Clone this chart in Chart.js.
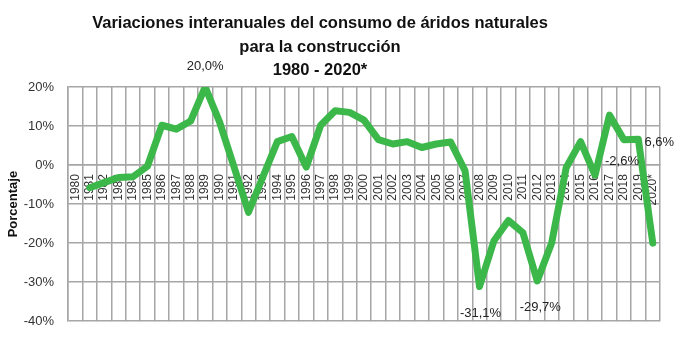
<!DOCTYPE html>
<html>
<head>
<meta charset="utf-8">
<script src="https://cdn.jsdelivr.net/npm/chart.js@4.4.1/dist/chart.umd.min.js"></script>
<style>
  html, body { margin: 0; padding: 0; background: #fff; }
  #wrap { width: 684px; height: 343px; position: relative; }
</style>
</head>
<body>
<div id="wrap"><canvas id="grafico"></canvas></div>
<script>
// datos
const anios = ['1980','1981','1982','1983','1984','1985','1986','1987','1988','1989',
  '1990','1991','1992','1993','1994','1995','1996','1997','1998','1999',
  '2000','2001','2002','2003','2004','2005','2006','2007','2008','2009',
  '2010','2011','2012','2013','2014','2015','2016','2017','2018','2019','2020*'];
const variacion = [null, -5.8, -4.5, -3.2, -3.0, -0.3, 10.2, 9.2, 11.3, 20.0,
  11.0, -0.5, -12.1, -3.0, 6.0, 7.3, -0.5, 10.2, 13.9, 13.5,
  11.5, 6.5, 5.4, 6.0, 4.5, 5.4, 5.9, -1.5, -31.1, -19.4,
  -14.2, -17.3, -29.7, -19.9, -0.7, 6.0, -2.6, 12.8, 6.5, 6.6, -20.0];
const aniosEtiquetados = ['1989', '2008', '2012', '2016', '2019'];
const yTicks = [20, 10, 0, -10, -20, -30, -40];
const tituloLineas = ['Variaciones interanuales del consumo de áridos naturales', 'para la construcción', '1980 - 2020*'];

const gris = '#a6a6a6';

// titulo centrado como en el original (no sobre el canvas completo)
const tituloPlugin = {
  id: 'tituloManual',
  afterDraw(chart) {
    const ctx = chart.ctx;
    ctx.save();
    ctx.fillStyle = '#111';
    ctx.font = 'bold 16.5px "Liberation Sans", Arial, sans-serif';
    ctx.textAlign = 'center';
    ctx.textBaseline = 'middle';
    const ys = [23, 47, 70];
    tituloLineas.forEach((t, i) => ctx.fillText(t, 320, ys[i]));
    ctx.restore();
  }
};

// etiquetas de valores seleccionados
const offsets = { '1989': [0, -21], '2008': [1, 27], '2012': [3, 26], '2016': [27, -14], '2019': [21, 3] };
const etiquetasPlugin = {
  id: 'etiquetasValores',
  afterDatasetsDraw(chart) {
    const ctx = chart.ctx;
    const x = chart.scales.x, y = chart.scales.y;
    ctx.save();
    ctx.fillStyle = '#222';
    ctx.font = '13px "Liberation Sans", Arial, sans-serif';
    ctx.textAlign = 'center';
    ctx.textBaseline = 'middle';
    aniosEtiquetados.forEach(a => {
      const i = anios.indexOf(a);
      const v = variacion[i];
      const txt = v.toFixed(1).replace('.', ',') + '%';
      const o = offsets[a];
      ctx.fillText(txt, x.getPixelForValue(i) + o[0], y.getPixelForValue(v) + o[1]);
    });
    ctx.restore();
  }
};

new Chart(document.getElementById('grafico'), {
  type: 'line',
  data: {
    labels: anios,
    datasets: [{
      data: variacion,
      borderColor: '#3cb84b',
      borderWidth: 7,
      borderCapStyle: 'round',
      borderJoinStyle: 'round',
      pointRadius: 0,
      tension: 0,
      fill: false
    }]
  },
  options: {
    responsive: true,
    maintainAspectRatio: false,
    animation: false,
    layout: { padding: { top: 87, right: 24, bottom: 19, left: 0 } },
    plugins: { legend: { display: false }, title: { display: false }, tooltip: { enabled: false } },
    scales: {
      x: {
        type: 'category',
        offset: true,
        position: { y: 0 },
        grid: { offset: true, color: gris, lineWidth: 1.5, drawTicks: false },
        border: { color: gris, width: 1.5 },
        ticks: {
          autoSkip: false, minRotation: 90, maxRotation: 90, padding: 9,
          color: '#333', font: { family: '"Liberation Sans", Arial, sans-serif', size: 12 }
        }
      },
      y: {
        min: -40, max: 20,
        afterBuildTicks(scale) { scale.ticks = yTicks.map(v => ({ value: v })); },
        afterFit(scale) { scale.width = 68; },
        grid: { color: gris, lineWidth: 1.5, drawTicks: false },
        border: { color: gris, width: 1.5 },
        ticks: {
          padding: 14, color: '#333',
          font: { family: '"Liberation Sans", Arial, sans-serif', size: 13 },
          callback: v => v + '%'
        },
        title: {
          display: true, text: 'Porcentaje', color: '#111',
          padding: { top: 6, bottom: 0 },
          font: { family: '"Liberation Sans", Arial, sans-serif', size: 13, weight: 'bold' }
        }
      }
    }
  },
  plugins: [tituloPlugin, etiquetasPlugin]
});
</script>
</body>
</html>
